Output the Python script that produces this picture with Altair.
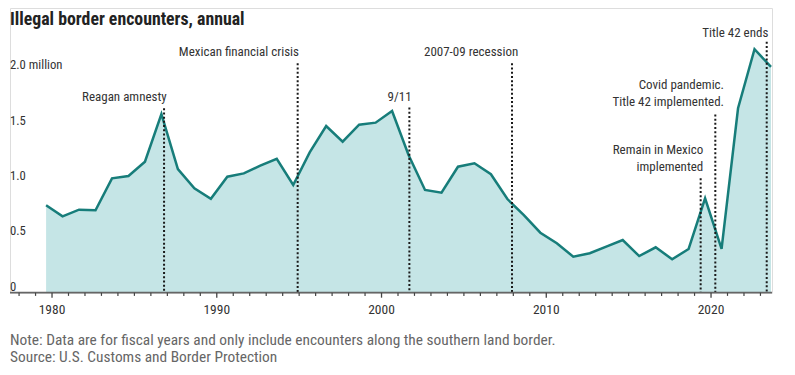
import altair as alt
import pandas as pd

# Fiscal years and encounters (millions)
years = list(range(1979, 2024))
encounters = [0.79, 0.69, 0.75, 0.745, 1.033, 1.054, 1.183, 1.614, 1.117, 0.943,
              0.849, 1.048, 1.078, 1.147, 1.21, 0.973, 1.268, 1.506, 1.364, 1.518,
              1.536, 1.641, 1.244, 0.928, 0.903, 1.138, 1.169, 1.07, 0.846, 0.70,
              0.542, 0.446, 0.325, 0.356, 0.416, 0.476, 0.331, 0.41, 0.302, 0.395,
              0.852, 0.395, 1.666, 2.199, 2.04]

# Events (decimal year), top of dotted line (millions), label lines, label right edge, label y (millions)
event_names = ["Reagan amnesty", "Mexican financial crisis", "9/11", "2007-09 recession",
               "Remain in Mexico implemented", "Covid pandemic. Title 42 implemented.", "Title 42 ends"]
event_dates = [1986.80, 1994.91, 2001.69, 2007.92, 2019.37, 2020.26, 2023.38]
event_tops = [1.666, 2.072, 1.672, 2.072, 1.033, 1.61, 2.267]
label_lines = [["Reagan amnesty"], ["Mexican financial crisis"], ["9/11"], ["2007-09 recession"],
               ["Remain in Mexico", "implemented"], ["Covid pandemic.", "Title 42 implemented."],
               ["Title 42 ends"]]
label_right = [1986.96, 1994.99, 2001.83, 2008.30, 2019.53, 2020.79, 2023.48]
label_y = [1.77, 2.17, 1.77, 2.17, 1.29, 1.88, 2.345]

ytick_values = [0, 0.5, 1.0, 1.5, 2.0]
ytick_labels = ["0", "0.5", "1.0", "1.5", "2.0 million"]
xtick_years = list(range(1978, 2024))
xlabel_years = [1980, 1990, 2000, 2010, 2020]

title_text = "Illegal border encounters, annual"
note_text = "Note: Data are for fiscal years and only include encounters along the southern land border."
source_text = "Source: U.S. Customs and Border Protection"

FONT = "Roboto Condensed, Liberation Sans Narrow, DejaVu Sans Condensed, sans-serif"
LINE_COLOR = "#177d7a"
FILL_COLOR = "#c5e5e6"

W, H = 762, 284.7
XDOM = [1977.45, 2023.70]
YDOM = [0, 2.5718]

df = pd.DataFrame({"year": years, "value": encounters})
df["x"] = df["year"] + 0.64

ev = pd.DataFrame({"name": event_names, "x": event_dates, "top": event_tops, "base": [0.0] * len(event_dates)})

lab_rows = []
for lines, xr, yy in zip(label_lines, label_right, label_y):
    for i, t in enumerate(lines):
        lab_rows.append({"text": t, "x": xr, "y": yy - i * 0.155})
labs = pd.DataFrame(lab_rows)

yt = pd.DataFrame({"v": ytick_values, "label": ytick_labels})
xt_minor = pd.DataFrame({"yr": [y for y in xtick_years if y not in xlabel_years]})
xt_major = pd.DataFrame({"yr": xlabel_years, "label": [str(v) for v in xlabel_years]})
one = pd.DataFrame({"k": [0]})

xscale = alt.Scale(domain=XDOM, nice=False, zero=False)
yscale = alt.Scale(domain=YDOM, nice=False)

base = alt.Chart(df)

area = base.mark_area(color=FILL_COLOR, opacity=1).encode(
    x=alt.X("x:Q", scale=xscale, axis=None),
    y=alt.Y("value:Q", scale=yscale,
            axis=alt.Axis(values=[0.5, 1.0, 1.5, 2.0], title=None, grid=True, gridColor="#000",
                          gridOpacity=0.1, gridWidth=1, labels=False, ticks=False, domain=False,
                          zindex=1)),
)

line = base.mark_line(color=LINE_COLOR, strokeWidth=2.5, strokeJoin="miter").encode(
    x=alt.X("x:Q", scale=xscale, axis=None), y=alt.Y("value:Q", scale=yscale, axis=None)
)

rules = alt.Chart(ev).mark_rule(color="#1a1a1a", strokeWidth=2, strokeDash=[2, 2.2]).encode(
    x=alt.X("x:Q", scale=xscale, axis=None), y=alt.Y("top:Q", scale=yscale, axis=None), y2="base:Q"
)

ev_text = alt.Chart(labs).mark_text(align="right", baseline="middle", font=FONT, fontSize=13,
                                    color="#333").encode(
    x=alt.X("x:Q", scale=xscale, axis=None), y=alt.Y("y:Q", scale=yscale, axis=None), text="text:N"
)

# baseline (x-axis domain line)
baseline = alt.Chart(one).mark_rule(color="#666", strokeWidth=1.7).encode(
    x=alt.value(0), x2=alt.value(W), y=alt.value(H)
)

# x-axis ticks (one per year, longer at decades) drawn through the x scale
ticks_minor = alt.Chart(xt_minor).mark_rule(color="#444", strokeWidth=1.2).encode(
    x=alt.X("yr:Q", scale=xscale, axis=None), y=alt.value(H), y2=alt.value(H + 3.2),
)
ticks_major = alt.Chart(xt_major).mark_rule(color="#444", strokeWidth=1.3).encode(
    x=alt.X("yr:Q", scale=xscale, axis=None), y=alt.value(H), y2=alt.value(H + 5),
)

xlab = alt.Chart(xt_major).mark_text(align="center", baseline="middle", font=FONT, fontSize=13.5,
                                     color="#333").encode(
    x=alt.X("yr:Q", scale=xscale, axis=None), y=alt.value(H + 17.5), text="label:N"
)

ylab = alt.Chart(yt).mark_text(align="left", baseline="alphabetic", dy=-2, font=FONT, fontSize=12.7,
                               color="#333").encode(
    x=alt.value(0), y=alt.Y("v:Q", scale=yscale, axis=None), text="label:N"
)

title = alt.Chart(one).mark_text(align="left", baseline="middle", font=FONT, fontSize=17.8,
                                 fontWeight="bold", color="#222").encode(
    x=alt.value(0), y=alt.value(12), text=alt.value(title_text)
)
note = alt.Chart(one).mark_text(align="left", baseline="middle", font=FONT, fontSize=15.4,
                                color="#666").encode(
    x=alt.value(0), y=alt.value(332), text=alt.value(note_text)
)
source = alt.Chart(one).mark_text(align="left", baseline="middle", font=FONT, fontSize=15.4,
                                  color="#666").encode(
    x=alt.value(0), y=alt.value(349), text=alt.value(source_text)
)

chart = alt.layer(area, line, rules, ev_text, baseline, ticks_minor, ticks_major, xlab, ylab,
                  title, note, source).properties(
    width=W, height=H,
    autosize=alt.AutoSizeParams(type="none"),
    padding={"left": 2, "top": 0, "right": 15, "bottom": 74},
).configure_view(stroke=None).configure(background="white")

chart.save("out.html", embed_options={"renderer": "svg", "actions": False})
